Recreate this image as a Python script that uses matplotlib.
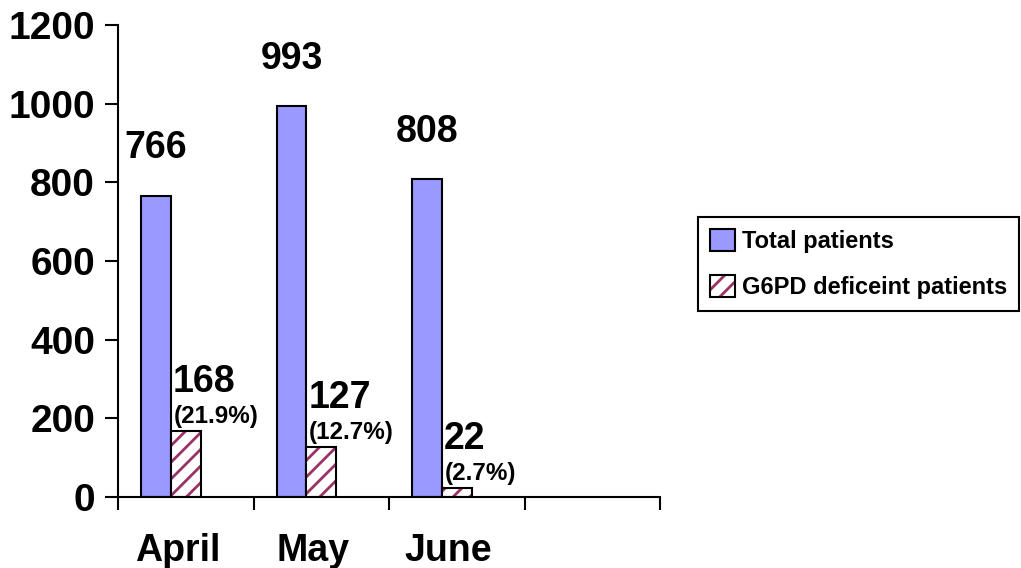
import matplotlib
matplotlib.use("agg")
import matplotlib.pyplot as plt
from matplotlib.patches import Patch
from matplotlib.ticker import FixedLocator, NullFormatter, FixedFormatter

# data
months = ["April", "May", "June"]
total_patients = [766, 993, 808]
g6pd_patients = [168, 127, 22]
g6pd_percent = [21.9, 12.7, 2.7]
n_slots = 4  # the category axis has one empty slot at the end

plt.rcParams.update({
    "font.family": ["Liberation Sans", "DejaVu Sans"],
    "font.weight": "bold",
    "hatch.linewidth": 2.0,
})

TOTAL_COLOR = "#9999FF"
HATCH_COLOR = "#993366"
BAR_W = 0.22
BAR_OFF = 0.17

fig = plt.figure(figsize=(10.21, 5.68), dpi=100, facecolor="white")
ax = fig.add_axes([118 / 1021, 71 / 568, 542 / 1021, 472 / 568])

x = list(range(len(months)))
x_total = [i + BAR_OFF for i in x]
x_def = [i + BAR_OFF + BAR_W for i in x]

ax.bar(x_total, total_patients, width=BAR_W, align="edge",
       color=TOTAL_COLOR, edgecolor="black", linewidth=1.5, zorder=2)
# hatched bars: hatch colour follows edgecolor, so outline separately in black
ax.bar(x_def, g6pd_patients, width=BAR_W, align="edge",
       facecolor="white", edgecolor=HATCH_COLOR, hatch="//", linewidth=0, zorder=2)
ax.bar(x_def, g6pd_patients, width=BAR_W, align="edge",
       fill=False, edgecolor="black", linewidth=1.5, zorder=3)

# value labels
for xt, v in zip(x_total, total_patients):
    ax.annotate(str(v), xy=(xt + BAR_W / 2, v), xytext=(0, 27),
                textcoords="offset points", ha="center", va="baseline",
                fontsize=27, fontweight="bold")
for xd, v, p in zip(x_def, g6pd_patients, g6pd_percent):
    ax.annotate(str(v), xy=(xd, v), xytext=(1.5, 28),
                textcoords="offset points", ha="left", va="baseline",
                fontsize=27, fontweight="bold")
    ax.annotate(f"({p}%)", xy=(xd, v), xytext=(2, 6),
                textcoords="offset points", ha="left", va="baseline",
                fontsize=17.5, fontweight="bold")

# axes styling
ax.set_xlim(0, n_slots)
ax.set_ylim(0, 1200)
ax.set_yticks(range(0, 1201, 200))
ax.spines["top"].set_visible(False)
ax.spines["right"].set_visible(False)
ax.spines["left"].set_linewidth(1.5)
ax.spines["bottom"].set_linewidth(1.5)

ax.xaxis.set_major_locator(FixedLocator(range(n_slots + 1)))
ax.xaxis.set_major_formatter(NullFormatter())
ax.xaxis.set_minor_locator(FixedLocator([i + 0.44 for i in x]))
ax.xaxis.set_minor_formatter(FixedFormatter(months))
ax.tick_params(axis="x", which="major", direction="out", length=9, width=1.5)
ax.tick_params(axis="x", which="minor", length=0, pad=26, labelsize=27)
ax.tick_params(axis="y", direction="out", length=9.5, width=1.5, pad=7, labelsize=28)
for lbl in ax.get_xticklabels(minor=True) + ax.get_yticklabels():
    lbl.set_fontweight("bold")

# legend
h_total = Patch(facecolor=TOTAL_COLOR, edgecolor="black", linewidth=1.5)
h_def = (Patch(facecolor="white", edgecolor=HATCH_COLOR, hatch="//", linewidth=0),
         Patch(fill=False, edgecolor="black", linewidth=1.5))
leg = fig.legend([h_total, h_def], ["Total patients", "G6PD deficeint patients"],
                 loc="upper left", bbox_to_anchor=(698 / 1021, 1 - 217 / 568),
                 bbox_transform=fig.transFigure, borderaxespad=0,
                 prop={"weight": "bold", "size": 17},
                 handlelength=1.05, handleheight=1.05, handletextpad=0.3,
                 labelspacing=0.95, borderpad=0.5, fancybox=False,
                 frameon=True, edgecolor="black", framealpha=1)
leg.get_frame().set_linewidth(1.5)

fig.savefig("out.png", dpi=100)
